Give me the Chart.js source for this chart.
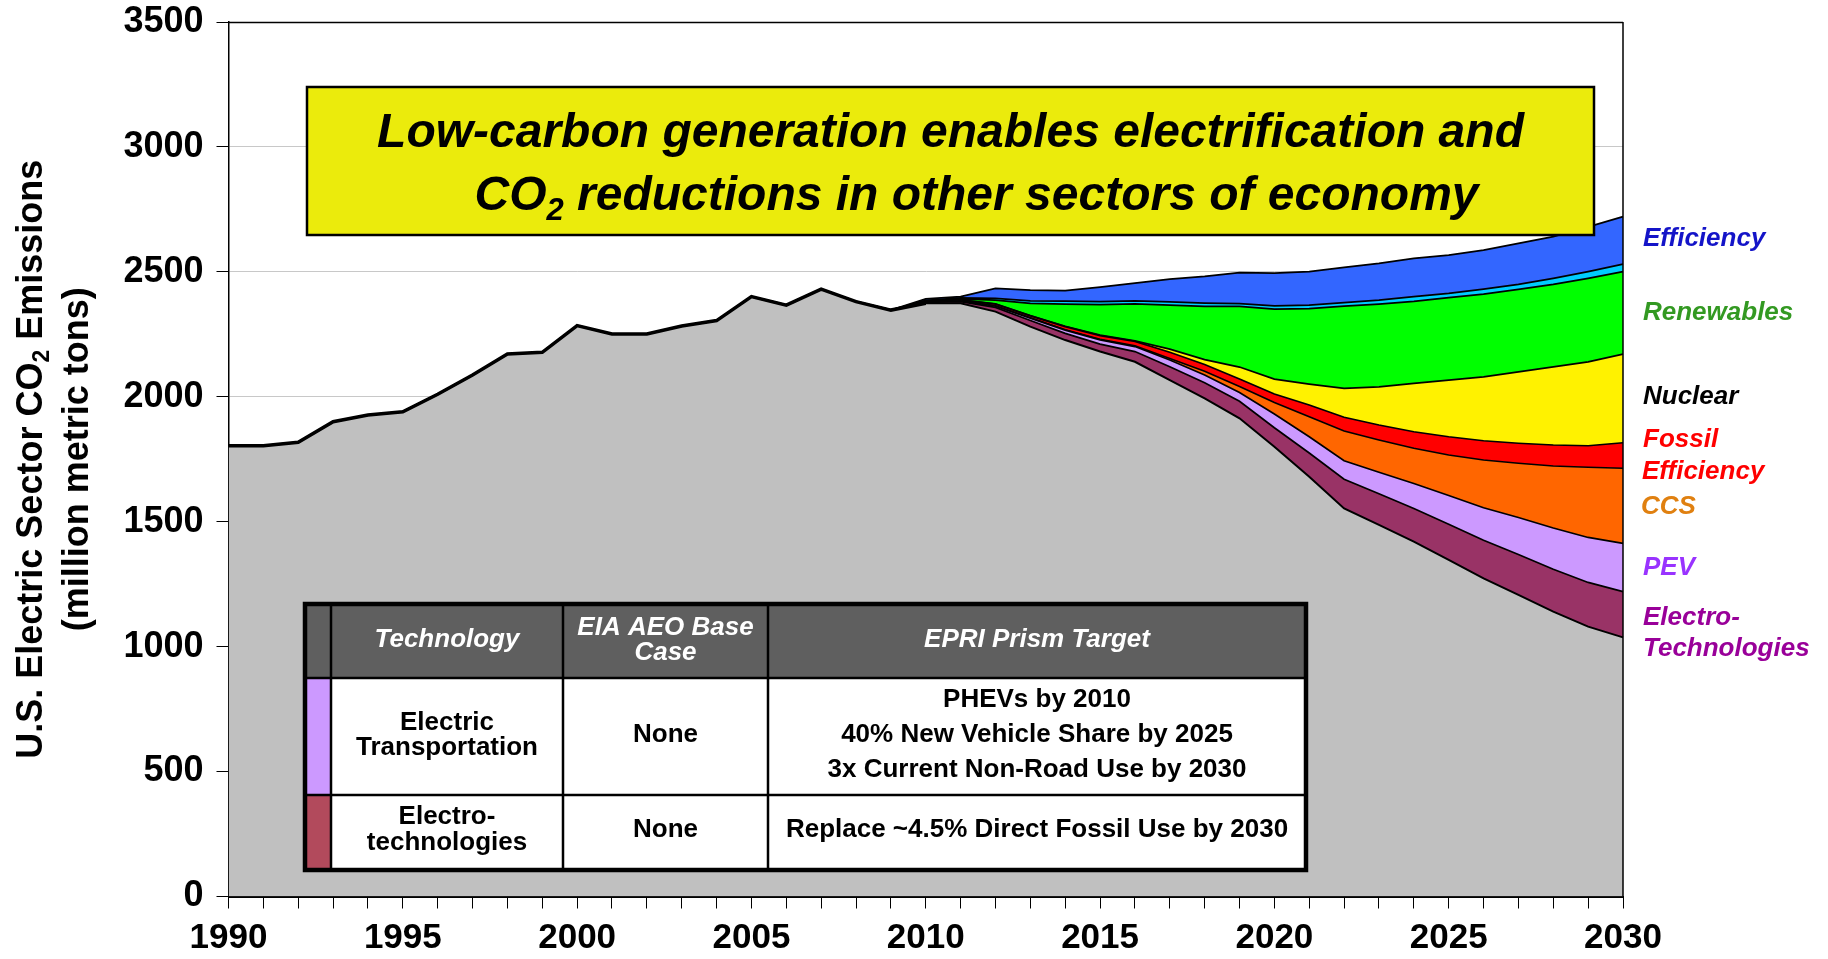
<!DOCTYPE html>
<html><head><meta charset="utf-8">
<script src="https://cdn.jsdelivr.net/npm/chart.js@4.4.1/dist/chart.umd.min.js"></script>
<style>html,body{margin:0;padding:0;background:#fff;} canvas{display:block;}</style>
</head><body>
<canvas id="c" width="1828" height="959"></canvas>
<script>
// ---- data (million metric tons CO2) ----
const years = [1990,1991,1992,1993,1994,1995,1996,1997,1998,1999,2000,2001,2002,2003,2004,2005,2006,2007,2008,2009,
  2010,2011,2012,2013,2014,2015,2016,2017,2018,2019,2020,2021,2022,2023,2024,2025,2026,2027,2028,2029,2030];
const remaining = [1804,1804,1818,1900,1927,1940,2010,2087,2171,2178,2285,2251,2251,2283,2305,2401,2367,2431,2381,2347,
  2374,2374,2341,2281,2227,2181,2140,2067,1994,1914,1800,1680,1553,1487,1420,1347,1273,1207,1140,1080,1037];
const historical = [1804,1804,1818,1900,1927,1940,2010,2087,2171,2178,2285,2251,2251,2283,2305,2401,2367,2431,2381,2347,
  2374,null,null,null,null,null,null,null,null,null,null,null,null,null,null,null,null,null,null,null,null];
const electroTech = [0,0,0,0,0,0,0,0,0,0,0,0,0,0,0,0,0,0,0,0,
  4,7,17,24,27,30,41,53,62,68,76,95,117,125,133,143,153,162,170,177,183];
const pev = [0,0,0,0,0,0,0,0,0,0,0,0,0,0,0,0,0,0,0,0,
  2,3,5,10,13,17,20,27,31,35,55,65,74,86,100,115,130,148,165,180,193];
const ccs = [0,0,0,0,0,0,0,0,0,0,0,0,0,0,0,0,0,0,0,0,
  0,1,1,1,1,2,3,6,15,24,46,80,119,129,141,162,191,217,248,281,301];
const fossilEff = [0,0,0,0,0,0,0,0,0,0,0,0,0,0,0,0,0,0,0,0,
  2,3,7,8,13,15,18,25,27,30,34,47,55,60,66,73,77,80,84,86,102];
const nuclear = [0,0,0,0,0,0,0,0,0,0,0,0,0,0,0,0,0,0,0,0,
  0,0,1,1,1,2,2,13,20,48,60,84,116,153,194,227,256,286,313,336,355];
const renewables = [0,0,0,0,0,0,0,0,0,0,0,0,0,0,0,0,0,0,0,0,
  2,4,15,49,89,122,148,176,213,243,280,302,329,331,328,330,331,330,330,334,330];
const otherBand = [0,0,0,0,0,0,0,0,0,0,0,0,0,0,0,0,0,0,0,0,
  2,4,7,10,12,12,12,13,13,11,13,14,14,16,19,17,20,20,24,27,30];
const efficiency = [0,0,0,0,0,0,0,0,0,0,0,0,0,0,0,0,0,0,0,0,
  6,5,40,43,42,58,71,91,107,124,131,134,141,147,153,153,156,164,167,179,190];
const yTicks = [0,500,1000,1500,2000,2500,3000,3500];

const FONT = '"Liberation Sans", Arial, sans-serif';

function ds(label, data, color, fill) {
  return { label, data, backgroundColor: color, borderColor: '#000', borderWidth: 1.7,
           fill, pointRadius: 0, tension: 0, stack: 'main' };
}
const histDs = { label: 'Historical', data: historical, borderColor: '#000', borderWidth: 3.5,
  fill: false, pointRadius: 0, tension: 0, stack: 'hist', order: -1, spanGaps: false };
const grayDs = ds('Remaining emissions', remaining, '#C0C0C0', 'origin');
grayDs.borderWidth = 2;

const datasets = [
  grayDs,
  ds('Electro-Technologies', electroTech, '#993366', '-1'),
  ds('PEV', pev, '#CC99FF', '-1'),
  ds('CCS', ccs, '#FF6600', '-1'),
  ds('Fossil Efficiency', fossilEff, '#FF0000', '-1'),
  ds('Nuclear', nuclear, '#FFF200', '-1'),
  ds('Renewables', renewables, '#00FF00', '-1'),
  ds('Other', otherBand, '#00CCFF', '-1'),
  ds('Efficiency', efficiency, '#3366FF', '-1'),
  histDs
];

function textSub(ctx, parts, cx, cy, font, subFont, subDy, align) {
  let w = 0;
  parts.forEach(p => { ctx.font = p[1] ? subFont : font; w += ctx.measureText(p[0]).width; });
  let x = align === 'left' ? cx : cx - w / 2;
  ctx.textAlign = 'left'; ctx.textBaseline = 'middle';
  parts.forEach(p => {
    ctx.font = p[1] ? subFont : font;
    ctx.fillText(p[0], x, cy + (p[1] ? subDy : 0));
    x += ctx.measureText(p[0]).width;
  });
}

const overlay = {
  id: 'overlay',
  afterDraw(chart) {
    const ctx = chart.ctx, a = chart.chartArea;
    ctx.save();
    ctx.strokeStyle = '#000'; ctx.lineWidth = 1.5;
    ctx.beginPath(); ctx.moveTo(a.left, a.top + 0.5); ctx.lineTo(a.right, a.top + 0.5);
    ctx.moveTo(a.right, a.top); ctx.lineTo(a.right, a.bottom); ctx.stroke();

    // y-axis title
    ctx.fillStyle = '#000';
    ctx.save(); ctx.translate(32, (a.top + a.bottom) / 2); ctx.rotate(-Math.PI / 2);
    textSub(ctx, [['U.S. Electric Sector CO', false], ['2', true], [' Emissions', false]], 0, 0,
      'bold 36px ' + FONT, 'bold 23px ' + FONT, 11);
    ctx.restore();
    ctx.save(); ctx.translate(78, (a.top + a.bottom) / 2); ctx.rotate(-Math.PI / 2);
    textSub(ctx, [['(million metric tons)', false]], 0, 0, 'bold 36px ' + FONT, '', 0);
    ctx.restore();

    // title box
    const bx0 = 307, bx1 = 1594, by0 = 87, by1 = 235;
    ctx.fillStyle = '#EBEB0C'; ctx.fillRect(bx0, by0, bx1 - bx0, by1 - by0);
    ctx.strokeStyle = '#000'; ctx.lineWidth = 2.5; ctx.strokeRect(bx0, by0, bx1 - bx0, by1 - by0);
    ctx.fillStyle = '#000';
    const tf = 'italic bold 48px ' + FONT;
    textSub(ctx, [['Low-carbon generation enables electrification and', false]], (bx0 + bx1) / 2, 134, tf, tf, 0);
    textSub(ctx, [['CO', false], ['2', true], [' reductions in other sectors of economy', false]],
      (bx0 + bx1) / 2 + 26, 197, tf, 'italic bold 31px ' + FONT, 14);

    // table
    const x0 = 305, x1 = 1306, y0 = 604, y1 = 870;
    const cols = [331, 563, 768], rows = [678, 795];
    ctx.fillStyle = '#fff'; ctx.fillRect(x0, y0, x1 - x0, y1 - y0);
    ctx.fillStyle = '#5F5F5F'; ctx.fillRect(x0, y0, x1 - x0, rows[0] - y0);
    ctx.fillStyle = '#CC99FF'; ctx.fillRect(x0, rows[0], cols[0] - x0, rows[1] - rows[0]);
    ctx.fillStyle = '#B24A5C'; ctx.fillRect(x0, rows[1], cols[0] - x0, y1 - rows[1]);
    ctx.strokeStyle = '#000'; ctx.lineWidth = 2.5;
    ctx.beginPath();
    cols.forEach(c => { ctx.moveTo(c, y0); ctx.lineTo(c, y1); });
    rows.forEach(r => { ctx.moveTo(x0, r); ctx.lineTo(x1, r); });
    ctx.stroke();
    ctx.lineWidth = 4.5; ctx.strokeRect(x0, y0, x1 - x0, y1 - y0);

    const hf = 'italic bold 26px ' + FONT, bf = 'bold 26px ' + FONT;
    ctx.fillStyle = '#fff';
    const c1 = (cols[0] + cols[1]) / 2, c2 = (cols[1] + cols[2]) / 2, c3 = (cols[2] + x1) / 2;
    textSub(ctx, [['Technology', false]], c1, 640, hf, hf, 0);
    textSub(ctx, [['EIA AEO Base', false]], c2, 628, hf, hf, 0);
    textSub(ctx, [['Case', false]], c2, 653, hf, hf, 0);
    textSub(ctx, [['EPRI Prism Target', false]], c3, 640, hf, hf, 0);
    ctx.fillStyle = '#000';
    textSub(ctx, [['Electric', false]], c1, 723, bf, bf, 0);
    textSub(ctx, [['Transportation', false]], c1, 748, bf, bf, 0);
    textSub(ctx, [['None', false]], c2, 735, bf, bf, 0);
    textSub(ctx, [['PHEVs by 2010', false]], c3, 700, bf, bf, 0);
    textSub(ctx, [['40% New Vehicle Share by 2025', false]], c3, 735, bf, bf, 0);
    textSub(ctx, [['3x Current Non-Road Use by 2030', false]], c3, 770, bf, bf, 0);
    textSub(ctx, [['Electro-', false]], c1, 817, bf, bf, 0);
    textSub(ctx, [['technologies', false]], c1, 843, bf, bf, 0);
    textSub(ctx, [['None', false]], c2, 830, bf, bf, 0);
    textSub(ctx, [['Replace ~4.5% Direct Fossil Use by 2030', false]], c3, 830, bf, bf, 0);

    // right-side labels
    const lf = 'italic bold 26px ' + FONT;
    const labels = [
      ['Efficiency', '#1414C8', 1643, 239],
      ['Renewables', '#339922', 1643, 313],
      ['Nuclear', '#000000', 1643, 397],
      ['Fossil', '#FF0000', 1643, 440],
      ['Efficiency', '#FF0000', 1642, 472],
      ['CCS', '#E08010', 1641, 507],
      ['PEV', '#9933FF', 1643, 568],
      ['Electro-', '#990099', 1643, 618],
      ['Technologies', '#990099', 1643, 649]
    ];
    labels.forEach(l => { ctx.fillStyle = l[1]; textSub(ctx, [[l[0], false]], l[2], l[3], lf, lf, 0, 'left'); });
    ctx.restore();
  }
};

new Chart(document.getElementById('c'), {
  type: 'line',
  data: { labels: years, datasets },
  options: {
    responsive: false, animation: false,
    layout: { padding: { left: 0, right: 205, top: 22, bottom: 0 } },
    plugins: { legend: { display: false }, tooltip: { enabled: false }, filler: { propagate: false } },
    elements: { point: { radius: 0 }, line: { tension: 0 } },
    scales: {
      x: {
        type: 'category', offset: false,
        grid: { display: true, drawOnChartArea: false, drawTicks: true, tickLength: 12, color: '#000', lineWidth: 1 },
        border: { display: true, color: '#000', width: 2 },
        ticks: {
          autoSkip: false, maxRotation: 0, minRotation: 0, padding: 9, color: '#000',
          font: { family: FONT, size: 35, weight: 'bold' },
          callback: (v, i) => (years[i] % 5 === 0 ? String(years[i]) : '')
        },
        afterFit: s => { s.height = 62.5; }
      },
      y: {
        stacked: true, min: 0, max: 3500,
        afterBuildTicks: s => { s.ticks = yTicks.map(v => ({ value: v })); },
        grid: { color: '#C8C8C8', lineWidth: 1, tickColor: '#000', tickLength: 12, drawTicks: true },
        border: { display: true, color: '#000', width: 1.5 },
        ticks: { padding: 13, color: '#000', font: { family: FONT, size: 36, weight: 'bold' },
                 callback: v => String(v) },
        afterFit: s => { s.width = 228.5; s.paddingTop = 0; s.paddingBottom = 0; }
      }
    }
  },
  plugins: [overlay]
});
</script>
</body></html>
